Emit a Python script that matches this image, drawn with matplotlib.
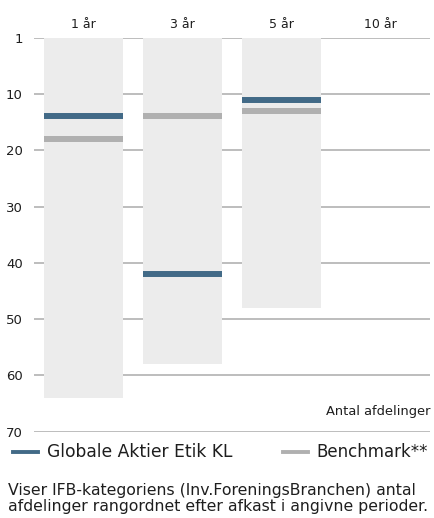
import matplotlib
matplotlib.use("Agg")
import matplotlib.pyplot as plt
from matplotlib.lines import Line2D

# rangering i IFB-kategorien pr. periode
periods = ["1 år", "3 år", "5 år", "10 år"]
n_funds = [64, 58, 48, None]
fund_rank = [14, 42, 11, None]
bench_rank = [18, 14, 13, None]
y_ticks = [0, 10, 20, 30, 40, 50, 60, 70]
y_labels = ["1", "10", "20", "30", "40", "50", "60", "70"]

BLUE = "#426a87"
GREY = "#b0b0b0"
COL_BG = "#ececec"
GRID = "#bdbdbd"
TXT = "#1e1e1e"

plt.rcParams["font.family"] = "DejaVu Sans"

fig = plt.figure(figsize=(4.34, 5.18), dpi=100)
ax = fig.add_axes([34 / 434, 1 - 431.7 / 518, 396 / 434, 394 / 518])

w = 0.8
for i, p in enumerate(periods):
    if n_funds[i] is None:
        continue
    ax.bar(i, n_funds[i], width=w, bottom=0, color=COL_BG, zorder=2)
    ax.hlines(bench_rank[i], i - w / 2, i + w / 2, color=GREY, lw=4.3, zorder=3)
    ax.hlines(fund_rank[i], i - w / 2, i + w / 2, color=BLUE, lw=4.3, zorder=4)

ax.set_xlim(-0.5, len(periods) - 0.5)
ax.set_ylim(70, 0)
ax.set_yticks(y_ticks)
ax.set_yticklabels(y_labels)
ax.set_axisbelow(True)
ax.yaxis.grid(True, color=GRID, lw=1.4)
ax.tick_params(axis="y", length=0, pad=8, labelsize=9.5, colors=TXT)
ax.set_xticks(range(len(periods)))
ax.set_xticklabels(periods)
ax.xaxis.tick_top()
ax.tick_params(axis="x", length=0, pad=5, labelsize=9, colors=TXT)
for s in ax.spines.values():
    s.set_visible(False)

ax.text(1.0, 66.5, "Antal afdelinger", transform=ax.get_yaxis_transform(),
        ha="right", va="center", fontsize=9.4, color=TXT)

# forklaring
ly = 1 - 452 / 518
fig.add_artist(Line2D([13 / 434, 38 / 434], [ly, ly], color=BLUE, lw=2.8))
fig.text(47 / 434, ly, "Globale Aktier Etik KL", fontsize=12.3, color=TXT,
         va="center", ha="left")
fig.add_artist(Line2D([283 / 434, 308 / 434], [ly, ly], color=GREY, lw=2.8))
fig.text(316 / 434, ly, "Benchmark**", fontsize=12.0, color=TXT,
         va="center", ha="left")

fig.text(8 / 434, 1 - 490 / 518,
         "Viser IFB-kategoriens (Inv.ForeningsBranchen) antal",
         fontsize=11.3, color=TXT, va="center", ha="left")
fig.text(8 / 434, 1 - 507 / 518,
         "afdelinger rangordnet efter afkast i angivne perioder.",
         fontsize=11.3, color=TXT, va="center", ha="left")

fig.savefig("out.png", dpi=100)
